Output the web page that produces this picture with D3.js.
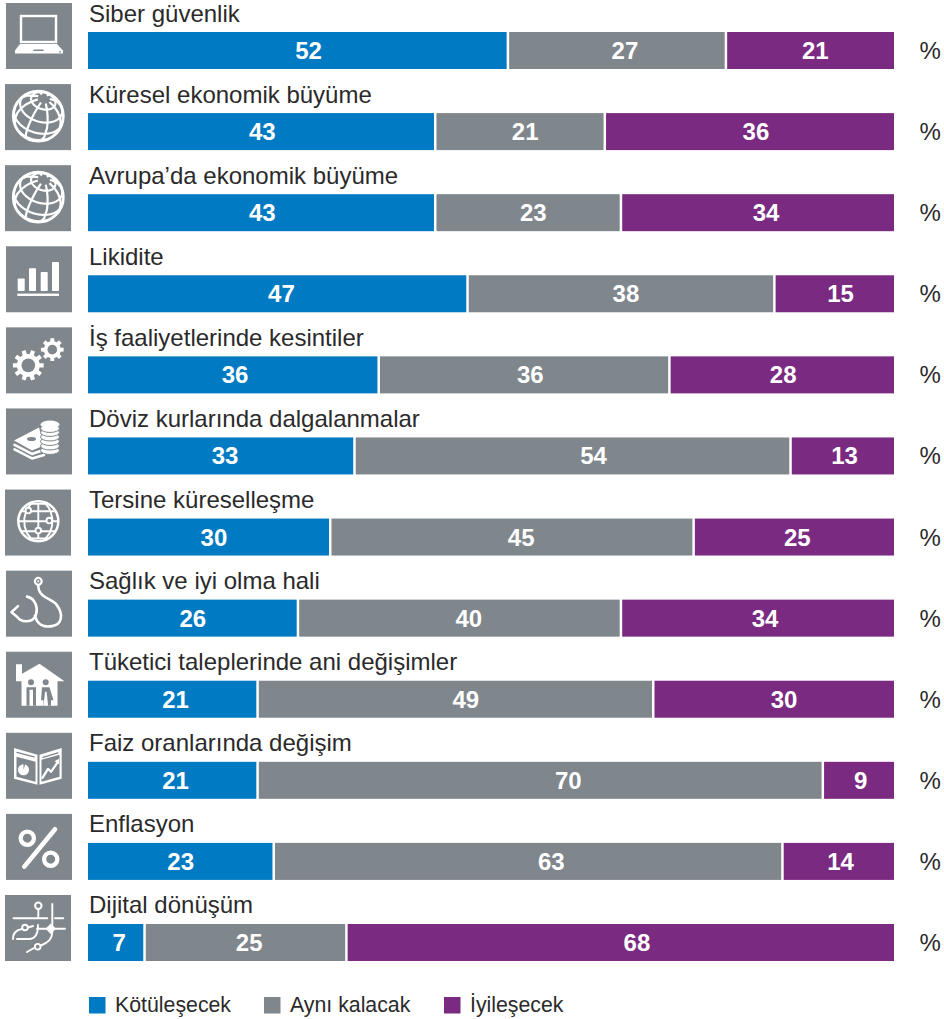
<!DOCTYPE html>
<html lang="tr"><head><meta charset="utf-8">
<script src="https://cdn.jsdelivr.net/npm/d3@7/dist/d3.min.js"></script>
<style>html,body{margin:0;padding:0;background:#fff}svg{display:block}text{font-family:"Liberation Sans",Arial,sans-serif}</style>
</head><body><svg id="c" width="944" height="1019"></svg>
<script>
const categories = ["Siber güvenlik","Küresel ekonomik büyüme","Avrupa’da ekonomik büyüme","Likidite","İş faaliyetlerinde kesintiler","Döviz kurlarında dalgalanmalar","Tersine küreselleşme","Sağlık ve iyi olma hali","Tüketici taleplerinde ani değişimler","Faiz oranlarında değişim","Enflasyon","Dijital dönüşüm"];
const worse  = [52,43,43,47,36,33,30,26,21,21,23,7];
const same   = [27,21,23,38,36,54,45,40,49,70,63,25];
const better = [21,36,34,15,28,13,25,34,30,9,14,68];
const seriesNames = ["Kötüleşecek","Aynı kalacak","İyileşecek"];
const seriesColors = ["#007ac2","#7f868c","#7b2a82"];
const iconKinds = ["laptop","globe","globe","bars","gears","money","net","steth","house","book","percent","digital"];
const iconNudge = [6,5,5,6,6,6,5,6,6,6,6,5];
const legendX = [89,264,444];
// the source sets its value labels off-centre in each segment
const worseLabelNudge  = [11,1,1,4,2,4,5,0,3,3,0,3];
const sameLabelNudge   = [9,6,6,6,7,22,10,10,11,29,24,4];
const betterLabelNudge = [6,7,9,7,2,3,4,8,11,3,3,17];

const svg = d3.select("#c");
const table = categories.map((c,i)=>({c,i,a:worse[i],b:same[i],d:better[i]}));
const stack = d3.stack().keys(["a","b","d"])(table);
const barEnd = 894;
const x = d3.scaleLinear().domain([0,100]).range([88,895.5]);
const labelX = d3.scaleLinear().domain([0,100]).range([88,barEnd]);
const y = d3.scaleBand().domain(d3.range(categories.length)).range([32,961]).paddingInner(1-37/81.09);
const color = d3.scaleOrdinal().domain(["a","b","d"]).range(seriesColors);
const nudges = [worseLabelNudge,sameLabelNudge,betterLabelNudge];
const GAP = 1.25, INK = "#2b2a2b", G = "#7f868c", W = "#fff";

// bars
stack.forEach((s,si)=>{
  const g = svg.append("g");
  const left = d=>x(d[0])+(si?GAP:0);
  const right = d=>si<2?x(d[1])-GAP:barEnd;
  g.selectAll("rect").data(s).join("rect")
    .attr("x",left)
    .attr("y",(d,i)=>y(i))
    .attr("width",d=>right(d)-left(d))
    .attr("height",y.bandwidth())
    .attr("fill",color(s.key));
  g.selectAll("text").data(s).join("text")
    .attr("x",(d,i)=>labelX((d[0]+d[1])/2)+nudges[si][i])
    .attr("y",(d,i)=>y(i)+27)
    .attr("text-anchor","middle").attr("font-size",24).attr("font-weight","bold").attr("fill","#fff")
    .text(d=>d[1]-d[0]);
});
// row labels, percent signs
svg.append("g").selectAll("text").data(categories).join("text")
  .attr("x",89).attr("y",(d,i)=>y(i)-10.5).attr("font-size",24).attr("fill",INK).text(d=>d);
svg.append("g").selectAll("text").data(categories).join("text")
  .attr("x",919.5).attr("y",(d,i)=>y(i)+27).attr("font-size",24).attr("fill",INK).text("%");

// icons
function gear(cx,cy,R,r,n){
  const p=[];
  for(let k=0;k<n;k++){
    const a=k/n*2*Math.PI, w=Math.PI/n*0.6, t=Math.PI/n*0.42;
    [[r,a-w],[R,a-t],[R,a+t],[r,a+w]].forEach(([q,b])=>p.push([cx+q*Math.cos(b),cy+q*Math.sin(b)]));
  }
  return "M"+p.map(d=>d.join(",")).join("L")+"Z";
}
function globe(g,cx,cy,r,rot,step,lat,sw){
  const proj=d3.geoOrthographic().scale(r).translate([cx,cy]).rotate(rot).clipAngle(90);
  const path=d3.geoPath(proj);
  g.append("path").attr("d",path(d3.geoGraticule().step(step).extent([[-180,-lat],[180.01,lat+.01]])()))
    .attr("fill","none").attr("stroke",W).attr("stroke-width",sw);
  g.append("circle").attr("cx",cx).attr("cy",cy).attr("r",r).attr("fill","none").attr("stroke",W).attr("stroke-width",sw+0.6);
}
const line=(g,d,sw=2,extra={})=>{const e=g.append("path").attr("d",d).attr("fill","none").attr("stroke",W).attr("stroke-width",sw).attr("stroke-linecap","round").attr("stroke-linejoin","round");Object.entries(extra).forEach(([k,v])=>e.attr(k,v));return e;};
const fill=(g,d,c=W)=>g.append("path").attr("d",d).attr("fill",c);
const dot=(g,cx,cy,r,f,s,sw=0)=>g.append("circle").attr("cx",cx).attr("cy",cy).attr("r",r).attr("fill",f).attr("stroke",s||"none").attr("stroke-width",sw);
const draw={
  laptop(g){
    g.append("rect").attr("x",15).attr("y",13).attr("width",35).attr("height",26).attr("fill","none").attr("stroke",W).attr("stroke-width",2.4);
    fill(g,"M14,41L51,41L57,47.5L57,50.5L9,50.5L9,47.5Z");
    fill(g,"M28,46.5h9l1,1.6h-11Z",G); dot(g,54,48.8,.9,G);
  },
  globe(g){ globe(g,33.3,32,25,[-15,-42,-18],[45,30],75,2.2); },
  bars(g){
    [[11.7,32.3],[23,22],[34.7,25.7],[46,15.7]].forEach(([a,b])=>g.append("rect").attr("x",a).attr("y",b).attr("width",7).attr("height",44.7-b).attr("rx",.8).attr("fill",W));
    g.append("rect").attr("x",11.3).attr("y",47.3).attr("width",41.7).attr("height",2.4).attr("fill",W);
  },
  gears(g){
    fill(g,gear(22.3,38,15.5,11.5,10)); dot(g,22.3,38,6.8,G);
    fill(g,gear(46.3,22.3,11.5,8.6,8)); dot(g,46.3,22.3,4.8,G);
  },
  money(g){
    line(g,"M8.5,36.5L26,45.5L36,42",2.6); line(g,"M8.5,41L26,50L38,46.5",2.6);
    fill(g,"M8,32L33,19L38,37L26,42Z"); g.append("ellipse").attr("cx",25.5).attr("cy",30.5).attr("rx",4.5).attr("ry",2).attr("fill",G);
    [42,37.5,33,28.5,24,20].forEach(cy=>g.append("ellipse").attr("cx",44).attr("cy",cy).attr("rx",9.5).attr("ry",4).attr("fill",W).attr("stroke",G).attr("stroke-width",1));
    g.append("ellipse").attr("cx",44).attr("cy",16).attr("rx",9.5).attr("ry",4).attr("fill",W);
  },
  net(g){
    globe(g,33.3,31.7,20,[0,0,0],[45,30],60,1.9);
    [[23.3,21],[44.3,31],[33.3,41]].forEach(([a,b])=>dot(g,a,b,2.8,G,W,1.9));
  },
  steth(g){
    dot(g,32.3,10.7,3.4,"none",W,2.2); dot(g,32.3,10.7,1,W);
    line(g,"M32.3,15C32,27 46,28 50.5,34C58,44 56,54 46,55.5C38,57 31,54 29,45",2.6);
    line(g,"M21,26C30,28 32,38 30,44C27,53 15,52 11,46L5.5,41.5L12,35.5",2.6);
  },
  house(g){
    fill(g,"M7.5,29.5L10,29.5L10,12.5L16,12.5L16,22L33.5,12L58.5,29.5L51.5,29.5L51.5,54L15.5,54L15.5,29.5Z");
    dot(g,25,30.5,3,G); dot(g,39.7,30.5,3,G);
    fill(g,"M20.5,35.5h9.5v18.5h-9.5Z",G); fill(g,"M23.5,38h3.5v16h-3.5Z");
    fill(g,"M36,35.5h7.5l4,13h-2.5v5.5h-7.5v-5.5h-2.5Z",G); fill(g,"M39,40h1.6l1.5,14h-4.5Z");
  },
  book(g){
    fill(g,"M8,15.3L31.5,22L31.5,52L8,46Z"); fill(g,"M33.5,22L55.7,15.3L55.7,46L33.5,52Z");
    fill(g,"M10.5,24L29.5,29L29.5,49L10.5,44Z",G); fill(g,"M35.5,27L53.5,22L53.5,44L35.5,49Z",G);
    line(g,"M11,19.5L28,24",1.3,{stroke:G}); line(g,"M37,24.5L52,20",1.3,{stroke:G});
    fill(g,d3.arc().innerRadius(0).outerRadius(5.5).startAngle(.3).endAngle(2*Math.PI)(),W).attr("transform","translate(17.5,37)");
    line(g,"M36.5,45L42,36L45,39L52,29",2.2); fill(g,"M48.5,28.5L53,26L53,31.5Z");
  },
  percent(g){
    dot(g,21.3,24.3,6.6,"none",W,4.3); dot(g,44.7,45.3,6.6,"none",W,4.3);
    g.append("path").attr("d","M49,15.3L18.3,52.7").attr("stroke",W).attr("stroke-width",4.6).attr("stroke-linecap","round");
  },
  digital(g){
    dot(g,33.3,10.7,3.2,"none",W,2); line(g,"M33.3,14V21.5",1.9);
    line(g,"M8.5,23.3H42.3",1.9); line(g,"M50,23.3H58.3",1.9);
    line(g,"M47.3,9V36C47.3,45 42,48 36,50.5",1.9); line(g,"M29,53L22,57",1.9);
    dot(g,32.7,51.7,2.8,"none",W,1.9);
    line(g,"M32,33.7H60",1.9); g.append("path").attr("d","M45.7,28.5L51,33.7L45.7,39L40.5,33.7Z").attr("fill",W);
    dot(g,20,32.5,2.8,"none",W,1.9); line(g,"M17,34C11,35 8,38 8,44",1.9); line(g,"M23,32.5L28,31",1.9);
    line(g,"M12,44H24C30,44 33,40 33,30",1.9);
  }
};
iconKinds.forEach((k,i)=>{
  const g=svg.append("g").attr("transform",`translate(${iconNudge[i]},${y(i)+37-66})`);
  g.append("rect").attr("width",66).attr("height",66).attr("fill",G);
  draw[k](g);
});

// legend
const leg=svg.append("g").selectAll("g").data(seriesNames).join("g");
leg.append("rect").attr("x",(d,i)=>legendX[i]).attr("y",997).attr("width",16.5).attr("height",16.5).attr("fill",(d,i)=>seriesColors[i]);
leg.append("text").attr("x",(d,i)=>legendX[i]+26).attr("y",1012).attr("font-size",21.3).attr("fill",INK).text(d=>d);
</script></body></html>
